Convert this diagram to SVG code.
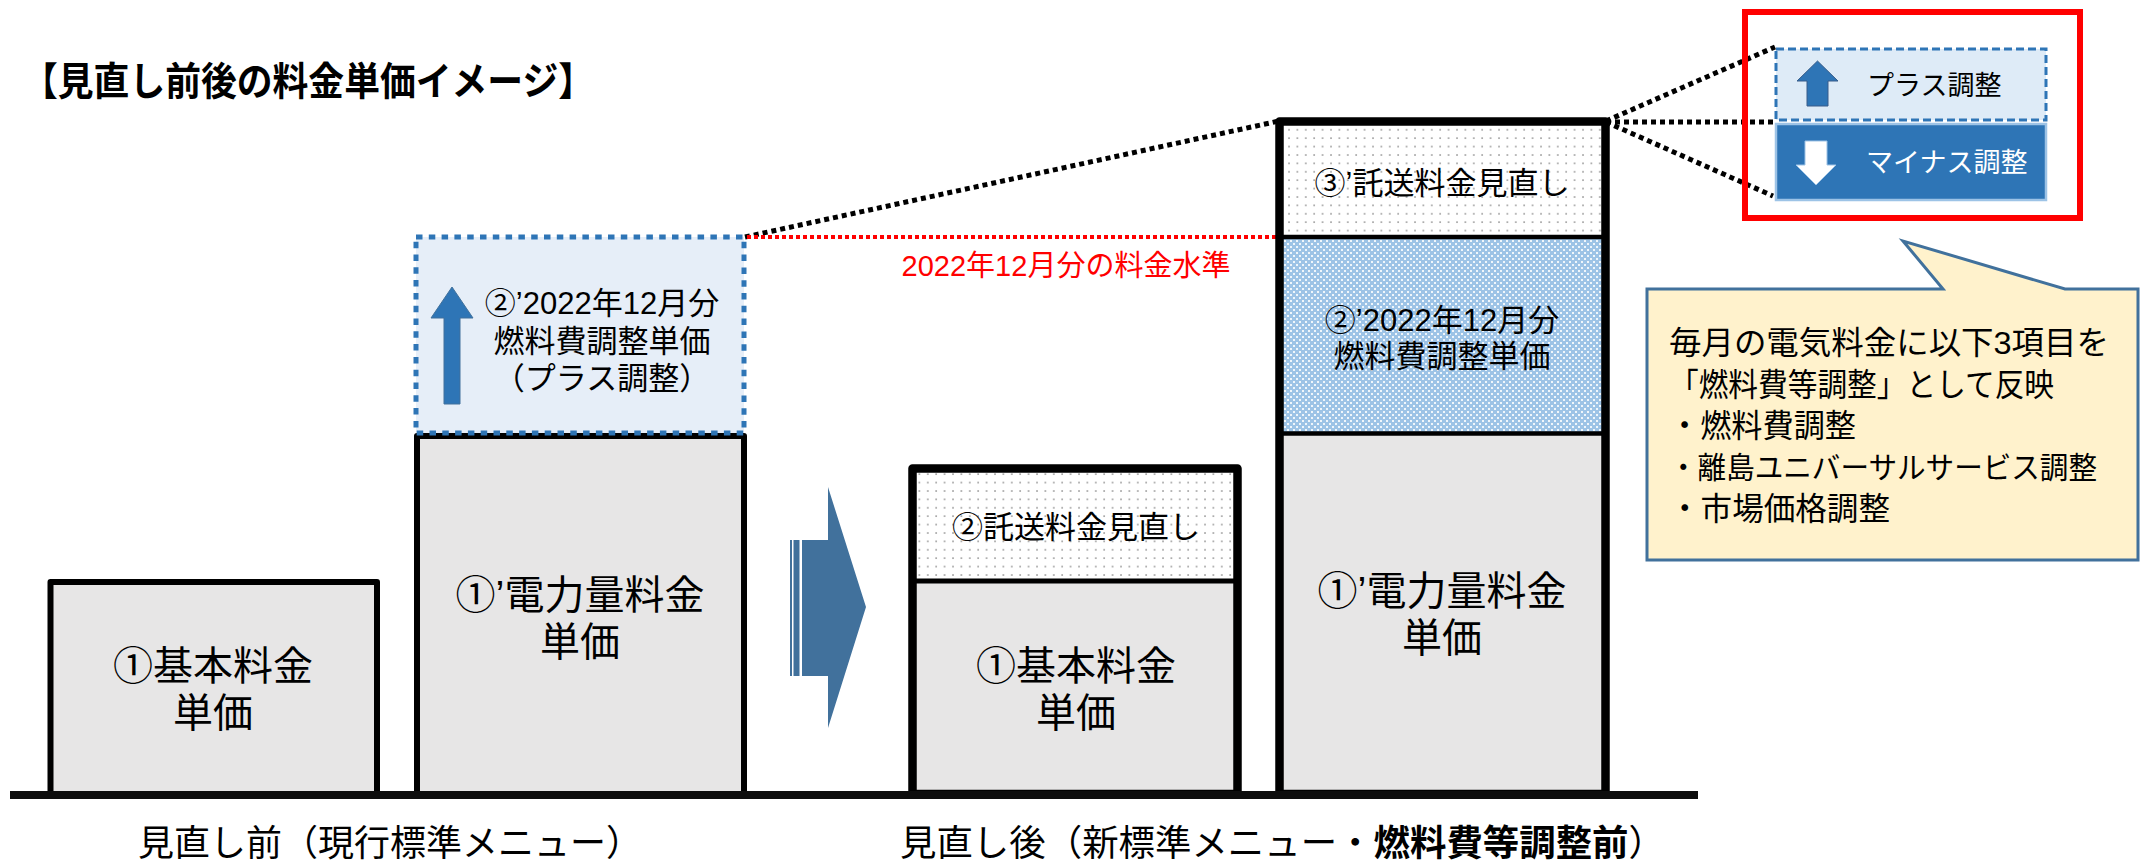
<svg xmlns="http://www.w3.org/2000/svg" width="2142" height="864" viewBox="0 0 2142 864">
<style>
text{font-family:"Liberation Sans","Noto Sans CJK JP",sans-serif;fill:#000;dominant-baseline:central}
.c{text-anchor:middle}
.t40{font-size:40px}
.t31{font-size:31px}
.box{stroke:#000;stroke-linejoin:round}
.gray{fill:#E7E6E6}
.dotline{fill:none;stroke:#000;stroke-width:5;stroke-dasharray:5 4}
</style>
<defs>
<pattern id="dots" width="8.4" height="8.4" patternUnits="userSpaceOnUse">
<rect width="8.4" height="8.4" fill="#fff"/>
<rect x="3" y="3" width="1.6" height="1.6" fill="#9a9a9a"/>
</pattern>
<pattern id="hatch" width="6" height="6" patternUnits="userSpaceOnUse">
<rect width="6" height="6" fill="#9DC3E6"/>
<path d="M0 0h2v2H0zM3 3h2v2H3z" fill="#fff" opacity="0.85"/>
</pattern>
</defs>
<rect width="2142" height="864" fill="#fff"/>

<g id="title">
<text x="22" y="81" textLength="572" lengthAdjust="spacingAndGlyphs" style="font-size:39px;font-weight:bold">【見直し前後の料金単価イメージ】</text>
</g>

<g id="connectors">
<line class="dotline" x1="745" y1="237" x2="1279" y2="121"/>
<line x1="747" y1="237" x2="1276" y2="237" stroke="#FF0000" stroke-width="4" stroke-dasharray="4 3"/>
<line class="dotline" x1="1606" y1="121" x2="1775" y2="47"/>
<line class="dotline" x1="1606" y1="122" x2="1775" y2="122"/>
<line class="dotline" x1="1606" y1="122" x2="1773" y2="196"/>
</g>

<g id="level-label">
<text class="c" x="1066" y="266" style="font-size:29px;fill:#FF0000">2022年12月分の料金水準</text>
</g>

<g id="box-basic-before">
<rect class="box gray" x="50.5" y="582" width="326.5" height="212" stroke-width="6"/>
<text class="c t40" x="213" y="666">①基本料金<tspan x="213" dy="47">単価</tspan></text>
</g>

<g id="box-energy-before">
<rect class="box gray" x="417" y="436" width="327" height="358" stroke-width="6"/>
<text class="c t40" x="580" y="595">①’電力量料金<tspan x="580" dy="47">単価</tspan></text>
</g>

<g id="box-fuel-before">
<rect x="416" y="237" width="328" height="196" fill="#E6EEF8" stroke="#2E75B6" stroke-width="5" stroke-dasharray="6.5 6.3"/>
<path d="M452 287 L473 318 L460 318 L460 404 L444 404 L444 318 L431 318 Z" fill="#2E75B6" stroke="#41719C" stroke-width="1"/>
<text class="c t31" x="602" y="303">②’2022年12月分<tspan x="602" dy="38">燃料費調整単価</tspan><tspan x="602" dy="37">（プラス調整）</tspan></text>
</g>

<g id="arrow-right">
<rect x="790" y="540" width="2" height="136" fill="#41719C"/>
<rect x="793.5" y="540" width="6" height="136" fill="#41719C"/>
<path d="M802 540 L828 540 L828 487 L866 607 L828 728 L828 676 L802 676 Z" fill="#41719C"/>
</g>

<g id="box-new-left">
<rect x="912.5" y="468.5" width="325" height="112.5" fill="url(#dots)"/>
<rect class="gray" x="912.5" y="581" width="325" height="213"/>
<line x1="912.5" y1="581" x2="1237.5" y2="581" stroke="#000" stroke-width="5"/>
<rect class="box" x="912.5" y="468.5" width="325" height="325.5" fill="none" stroke-width="8.5"/>
<text class="c t31" x="1076" y="527">②託送料金見直し</text>
<text class="c t40" x="1076" y="666">①基本料金<tspan x="1076" dy="47">単価</tspan></text>
</g>

<g id="box-new-right">
<rect x="1279.5" y="121.5" width="326" height="115.5" fill="url(#dots)"/>
<rect x="1279.5" y="237" width="326" height="197" fill="url(#hatch)"/>
<rect class="gray" x="1279.5" y="434" width="326" height="360"/>
<line x1="1279.5" y1="237" x2="1605.5" y2="237" stroke="#000" stroke-width="4.5"/>
<line x1="1279.5" y1="433.5" x2="1605.5" y2="433.5" stroke="#000" stroke-width="4.5"/>
<rect class="box" x="1279.5" y="121.5" width="326" height="672.5" fill="none" stroke-width="8.5"/>
<text class="c t31" x="1442" y="183">③’託送料金見直し</text>
<text class="c t31" x="1442" y="320">②’2022年12月分<tspan x="1442" dy="36">燃料費調整単価</tspan></text>
<text class="c t40" x="1442" y="591">①’電力量料金<tspan x="1442" dy="47">単価</tspan></text>
</g>

<g id="ground">
<line x1="10" y1="795" x2="1698" y2="795" stroke="#0D0D0D" stroke-width="8"/>
</g>

<g id="legend">
<rect x="1745" y="12" width="335" height="206" fill="none" stroke="#FF0000" stroke-width="6"/>
<rect x="1776" y="49" width="270" height="71" fill="#DEEBF7" stroke="#2E75B6" stroke-width="3" stroke-dasharray="8 4"/>
<path d="M1817.5 61 L1838 81 L1828 81 L1828 106 L1807 106 L1807 81 L1797 81 Z" fill="#2E75B6" stroke="#385D8A" stroke-width="1"/>
<text x="1867" y="86" style="font-size:27px">プラス調整</text>
<rect x="1776" y="124" width="270" height="76" fill="#2E75B6" stroke="#9DC3E6" stroke-width="2.5"/>
<path d="M1805 141 L1827 141 L1827 165 L1836 165 L1816 185 L1796 165 L1805 165 Z" fill="#fff" stroke="#9DC3E6" stroke-width="1"/>
<text x="1866" y="163" style="font-size:27px;fill:#fff">マイナス調整</text>
</g>

<g id="callout">
<path d="M1647 289 L1943 289 L1903 241 L2065 289 L2138 289 L2138 560 L1647 560 Z" fill="#FFF2CC" stroke="#41719C" stroke-width="3"/>
<text x="1669" y="343" style="font-size:32px"><tspan textLength="440" lengthAdjust="spacingAndGlyphs">毎月の電気料金に以下3項目を</tspan><tspan x="1669" dy="42" textLength="385" lengthAdjust="spacingAndGlyphs">「燃料費等調整」として反映</tspan><tspan x="1669" dy="41" textLength="187" lengthAdjust="spacingAndGlyphs">・燃料費調整</tspan><tspan x="1669" dy="41" textLength="428" lengthAdjust="spacingAndGlyphs" style="font-size:30px">・離島ユニバーサルサービス調整</tspan><tspan x="1669" dy="42" textLength="221" lengthAdjust="spacingAndGlyphs">・市場価格調整</tspan></text>
</g>

<g id="labels">
<text x="138" y="843" textLength="504" lengthAdjust="spacingAndGlyphs" style="font-size:36px">見直し前（現行標準メニュー）</text>
<text x="900" y="843" textLength="765" lengthAdjust="spacingAndGlyphs" style="font-size:36px">見直し後（新標準メニュー・<tspan font-weight="bold">燃料費等調整前</tspan>）</text>
</g>
</svg>
